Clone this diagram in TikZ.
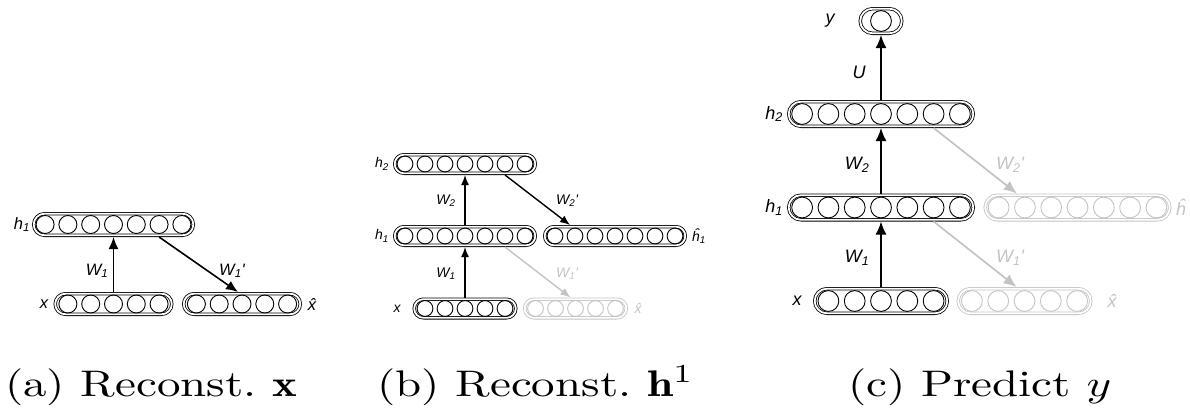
\documentclass[tikz,border=0pt]{standalone}
\usepackage{fontspec}
\usepackage{graphicx}
\usetikzlibrary{arrows.meta,shapes.misc,calc}
\newfontfamily\labfont{Liberation Sans}
\definecolor{lg}{RGB}{195,195,195}
\tikzset{
  layerbox/.style={rounded rectangle, draw=#1, double=white, double distance=1.8pt, line width=0.8pt, inner sep=0pt, outer sep=1.7pt},
  unitc/.style={circle, draw=#1, line width=0.9pt, inner sep=0pt},
  arra/.style={-{Latex[length=12pt,width=10pt]}, line width=1.6pt},
  arrb/.style={-{Latex[length=10pt,width=8pt]}, line width=1.4pt},
  arrc/.style={-{Latex[length=13pt,width=11pt]}, line width=1.7pt},
  lab/.style={font=\labfont\itshape\fontsize{#1}{#1}\selectfont, inner sep=0pt},
  captxt/.style={anchor=base west, inner sep=0pt}
}
\newcommand\mklayer[9]{%
  \node[layerbox=#9, minimum width=#7pt-3.4pt, minimum height=#8pt-3.4pt] (#1) at (#2,#3) {};
  \foreach \i in {1,...,#4}{\node[unitc=#9, minimum size=#6*2pt] (#1-\i) at ($(#1.center)+({(\i-(#4+1)/2)*#5},0)$) {};}
}
\begin{document}
\begin{tikzpicture}[x=1pt,y=-1pt]
\useasboundingbox (0,0) rectangle (1190,407);
% ---------- (a)
\mklayer{h1a}{113.5}{224.5}{7}{22.8}{9.0}{163}{25}{black}
\mklayer{xa}{113.5}{304}{5}{22.8}{9.0}{120}{24}{black}
\mklayer{xha}{242}{304}{5}{22.8}{9.0}{120}{24}{black}
\draw[arra] (xa.north) -- (h1a.south);
\draw[arra] (h1a-6 |- h1a.south) -- ($(xha-3 |- xha.north)+(-4,0)$);
\node[lab=16.5] (la-h1) at (22,224.5) {h\textsubscript{1}};
\node[lab=16.5] (la-x) at (44,304) {x};
\node[lab=16.5] (la-xh) at (312,304) {\^{x}};
\node[lab=16.5] (la-w1) at (97,271) {W\textsubscript{1}};
\node[lab=16.5] (la-w1p) at (232,271) {W\textsubscript{1}'};
% ---------- (b)
\mklayer{h2b}{465}{164}{7}{20}{7.9}{144}{22}{black}
\mklayer{h1b}{465}{236}{7}{20}{7.9}{144}{22}{black}
\mklayer{hhb}{615}{236}{7}{20}{7.9}{144}{22}{black}
\mklayer{xb}{465}{308.5}{5}{20}{7.9}{105}{22}{black}
\mklayer{xhb}{575.5}{308.5}{5}{20}{7.9}{105}{22}{lg}
\draw[arrb] (xb.north) -- (h1b.south);
\draw[arrb] (h1b.north) -- (h2b.south);
\draw[arrb] (h2b-6 |- h2b.south) -- ($(hhb-2 |- hhb.north)+(-5,0)$);
\draw[arrb,lg] (h1b-6 |- h1b.south) -- ($(xhb-3 |- xhb.north)+(-5,0)$);
\node[lab=14] (lb-h2) at (382,164) {h\textsubscript{2}};
\node[lab=14] (lb-h1) at (382,236) {h\textsubscript{1}};
\node[lab=14] (lb-hh) at (699,236) {\^{h}\textsubscript{1}};
\node[lab=14] (lb-x) at (397,308.5) {x};
\node[lab=14,lg] (lb-xh) at (638,308.5) {\^{x}};
\node[lab=14] (lb-w2) at (446,201) {W\textsubscript{2}};
\node[lab=14] (lb-w2p) at (567,201) {W\textsubscript{2}'};
\node[lab=14] (lb-w1) at (446,274) {W\textsubscript{1}};
\node[lab=14,lg] (lb-w1p) at (567,274) {W\textsubscript{1}'};
% ---------- (c)
\mklayer{yc}{881}{21}{1}{0}{10.4}{45}{28}{black}
\mklayer{h2c}{881}{114}{7}{26.3}{10.4}{188}{28}{black}
\mklayer{h1c}{881}{207.5}{7}{26.3}{10.4}{188}{28}{black}
\mklayer{hhc}{1077.5}{207.5}{7}{26.3}{10.4}{188}{28}{lg}
\mklayer{xc}{881}{301}{5}{26.3}{10.4}{136}{28}{black}
\mklayer{xhc}{1024.5}{301}{5}{26.3}{10.4}{136}{28}{lg}
\draw[arrc] (xc.north) -- (h1c.south);
\draw[arrc] (h1c.north) -- (h2c.south);
\draw[arrc] (h2c.north) -- (yc.south);
\draw[arrc,lg] (h2c-6 |- h2c.south) -- ($(hhc-2 |- hhc.north)+(-8,0)$);
\draw[arrc,lg] (h1c-6 |- h1c.south) -- ($(xhc-3 |- xhc.north)+(-8,0)$);
\node[lab=18] (lc-y) at (830,21) {y};
\node[lab=18] (lc-u) at (859,72) {U};
\node[lab=18] (lc-h2) at (774,114) {h\textsubscript{2}};
\node[lab=18] (lc-h1) at (774,207.5) {h\textsubscript{1}};
\node[lab=18,lg] (lc-hh) at (1181,207.5) {\^{h}};
\node[lab=18] (lc-x) at (797,301) {x};
\node[lab=18,lg] (lc-xh) at (1112,301) {\^{x}};
\node[lab=18] (lc-w2) at (857,165) {W\textsubscript{2}};
\node[lab=18,lg] (lc-w2p) at (1010,165) {W\textsubscript{2}'};
\node[lab=18] (lc-w1) at (857,258) {W\textsubscript{1}};
\node[lab=18,lg] (lc-w1p) at (1010,258) {W\textsubscript{1}'};
% ---------- captions
\node[captxt] (capa) at (5,396) {\scalebox{4.7}[3.7]{(a) Reconst.\ $\mathbf{x}$}};
\node[captxt] (capb) at (377,396) {\scalebox{4.7}[3.7]{(b) Reconst.\ $\mathbf{h}^1$}};
\node[captxt] (capc) at (848,396) {\scalebox{4.7}[3.7]{(c) Predict $y$}};
\end{tikzpicture}
\end{document}
